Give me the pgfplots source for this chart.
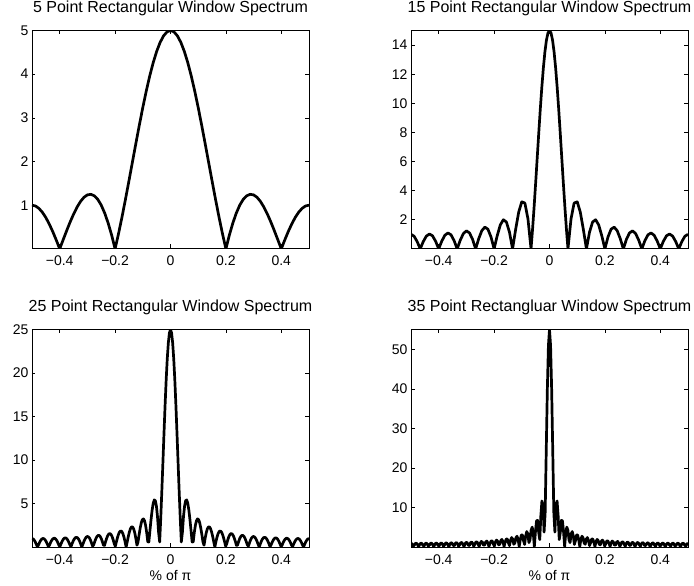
\documentclass[border=0pt]{standalone}
\usepackage{fontspec}
\setmainfont{Liberation Sans}
\usepackage{pgfplots}
\pgfplotsset{compat=1.18}
\usepackage{pgfplotstable}

% sampled at f = i/256 : columns x, |W| for N=25, |W| for N=55
\pgfplotstableread{
x a b
-0.5 1.000 1.000
-0.49609 0.953 0.781
-0.49219 0.818 0.219
-0.48828 0.606 0.439
-0.48438 0.337 0.905
-0.48047 0.0369 0.975
-0.47656 0.267 0.617
-0.47266 0.547 0.0123
-0.46875 0.777 0.637
-0.46484 0.934 0.984
-0.46094 1.005 0.900
-0.45703 0.982 0.420
-0.45313 0.867 0.246
-0.44922 0.671 0.806
-0.44531 0.411 1.015
-0.44141 0.112 0.778
-0.4375 0.199 0.199
-0.43359 0.493 0.471
-0.42969 0.742 0.937
-0.42578 0.924 0.994
-0.42188 1.020 0.614
-0.41797 1.021 0.0381
-0.41406 0.927 0.678
-0.41016 0.745 1.024
-0.40625 0.493 0.922
-0.40234 0.192 0.413
-0.39844 0.129 0.281
-0.39453 0.440 0.857
-0.39063 0.713 1.061
-0.38672 0.922 0.799
-0.38281 1.046 0.183
-0.37891 1.073 0.519
-0.375 1.000 1.000
-0.37109 0.833 1.045
-0.36719 0.585 0.630
-0.36328 0.280 0.0674
-0.35938 0.0543 0.743
-0.35547 0.388 1.099
-0.35156 0.689 0.974
-0.34766 0.929 0.418
-0.34375 1.085 0.329
-0.33984 1.141 0.941
-0.33594 1.091 1.146
-0.33203 0.938 0.848
-0.32813 0.695 0.171
-0.32422 0.382 0.591
-0.32031 0.0290 1.104
-0.31641 0.332 1.137
-0.3125 0.668 0.668
-0.30859 0.947 0.104
-0.30469 1.141 0.843
-0.30078 1.232 1.223
-0.29688 1.208 1.068
-0.29297 1.070 0.438
-0.28906 0.829 0.398
-0.28516 0.505 1.074
-0.28125 0.127 1.287
-0.27734 0.271 0.935
-0.27344 0.651 0.1617
-0.26953 0.978 0.700
-0.26563 1.220 1.271
-0.26172 1.352 1.291
-0.25781 1.360 0.739
-0.25391 1.240 0.154
-0.25 1.000 1.000
-0.24609 0.659 1.423
-0.24219 0.248 1.225
-0.23828 0.198 0.478
-0.23438 0.637 0.502
-0.23047 1.027 1.285
-0.22656 1.332 1.519
-0.22266 1.520 1.085
-0.21875 1.569 0.1545
-0.21484 1.471 0.873
-0.21094 1.231 1.543
-0.20703 0.866 1.548
-0.20313 0.408 0.863
-0.19922 0.1047 0.2297
-0.19531 0.625 1.258
-0.19141 1.105 1.761
-0.1875 1.497 1.497
-0.18359 1.761 0.554
-0.17969 1.869 0.673
-0.17578 1.803 1.647
-0.17188 1.562 1.924
-0.16797 1.163 1.352
-0.16406 0.636 0.1493
-0.16016 0.0255 1.173
-0.15625 0.616 2.030
-0.15234 1.228 2.016
-0.14844 1.753 1.096
-0.14453 2.137 0.362
-0.14063 2.336 1.733
-0.13672 2.322 2.397
-0.13281 2.085 2.018
-0.12891 1.634 0.707
-0.125 1.000 1.000
-0.12109 0.231 2.359
-0.11719 0.609 2.738
-0.11328 1.445 1.901
-0.10938 2.199 0.1457
-0.10547 2.795 1.801
-0.10156 3.164 3.072
-0.09766 3.255 3.043
-0.09375 3.038 1.624
-0.08984 2.507 0.657
-0.08594 1.686 2.839
-0.08203 0.623 3.921
-0.07813 0.604 3.306
-0.07422 1.898 1.103
-0.07031 3.147 1.850
-0.06641 4.230 4.286
-0.0625 5.027 5.027
-0.05859 5.430 3.517
-0.05469 5.347 0.1435
-0.05078 4.716 3.812
-0.04688 3.504 6.611
-0.04297 1.717 6.756
-0.03906 0.601 3.673
-0.03516 3.369 1.879
-0.03125 6.472 7.886
-0.02734 9.770 11.654
-0.02344 13.10 10.716
-0.01953 16.30 3.768
-0.01563 19.19 8.714
-0.01172 21.62 24.42
-0.00781 23.46 39.76
-0.00391 24.61 50.92
0 25 55
0.00391 24.61 50.92
0.00781 23.46 39.76
0.01172 21.62 24.42
0.01563 19.19 8.714
0.01953 16.30 3.768
0.02344 13.10 10.716
0.02734 9.770 11.654
0.03125 6.472 7.886
0.03516 3.369 1.879
0.03906 0.601 3.673
0.04297 1.717 6.756
0.04688 3.504 6.611
0.05078 4.716 3.812
0.05469 5.347 0.1435
0.05859 5.430 3.517
0.0625 5.027 5.027
0.06641 4.230 4.286
0.07031 3.147 1.850
0.07422 1.898 1.103
0.07813 0.604 3.306
0.08203 0.623 3.921
0.08594 1.686 2.839
0.08984 2.507 0.657
0.09375 3.038 1.624
0.09766 3.255 3.043
0.10156 3.164 3.072
0.10547 2.795 1.801
0.10938 2.199 0.1457
0.11328 1.445 1.901
0.11719 0.609 2.738
0.12109 0.231 2.359
0.125 1.000 1.000
0.12891 1.634 0.707
0.13281 2.085 2.018
0.13672 2.322 2.397
0.14063 2.336 1.733
0.14453 2.137 0.362
0.14844 1.753 1.096
0.15234 1.228 2.016
0.15625 0.616 2.030
0.16016 0.0255 1.173
0.16406 0.636 0.1493
0.16797 1.163 1.352
0.17188 1.562 1.924
0.17578 1.803 1.647
0.17969 1.869 0.673
0.18359 1.761 0.554
0.1875 1.497 1.497
0.19141 1.105 1.761
0.19531 0.625 1.258
0.19922 0.1047 0.2297
0.20313 0.408 0.863
0.20703 0.866 1.548
0.21094 1.231 1.543
0.21484 1.471 0.873
0.21875 1.569 0.1545
0.22266 1.520 1.085
0.22656 1.332 1.519
0.23047 1.027 1.285
0.23438 0.637 0.502
0.23828 0.198 0.478
0.24219 0.248 1.225
0.24609 0.659 1.423
0.25 1.000 1.000
0.25391 1.240 0.154
0.25781 1.360 0.739
0.26172 1.352 1.291
0.26563 1.220 1.271
0.26953 0.978 0.700
0.27344 0.651 0.1617
0.27734 0.271 0.935
0.28125 0.127 1.287
0.28516 0.505 1.074
0.28906 0.829 0.398
0.29297 1.070 0.438
0.29688 1.208 1.068
0.30078 1.232 1.223
0.30469 1.141 0.843
0.30859 0.947 0.104
0.3125 0.668 0.668
0.31641 0.332 1.137
0.32031 0.0290 1.104
0.32422 0.382 0.591
0.32813 0.695 0.171
0.33203 0.938 0.848
0.33594 1.091 1.146
0.33984 1.141 0.941
0.34375 1.085 0.329
0.34766 0.929 0.418
0.35156 0.689 0.974
0.35547 0.388 1.099
0.35938 0.0543 0.743
0.36328 0.280 0.0674
0.36719 0.585 0.630
0.37109 0.833 1.045
0.375 1.000 1.000
0.37891 1.073 0.519
0.38281 1.046 0.183
0.38672 0.922 0.799
0.39063 0.713 1.061
0.39453 0.440 0.857
0.39844 0.129 0.281
0.40234 0.192 0.413
0.40625 0.493 0.922
0.41016 0.745 1.024
0.41406 0.927 0.678
0.41797 1.021 0.0381
0.42188 1.020 0.614
0.42578 0.924 0.994
0.42969 0.742 0.937
0.43359 0.493 0.471
0.4375 0.199 0.199
0.44141 0.112 0.778
0.44531 0.411 1.015
0.44922 0.671 0.806
0.45313 0.867 0.246
0.45703 0.982 0.420
0.46094 1.005 0.900
0.46484 0.934 0.984
0.46875 0.777 0.637
0.47266 0.547 0.0123
0.47656 0.267 0.617
0.48047 0.0369 0.975
0.48438 0.337 0.905
0.48828 0.606 0.439
0.49219 0.818 0.219
0.49609 0.953 0.781
0.5 1.000 1.000
}\tabB

\pgfplotsset{
  mystyle/.style={
    scale only axis, width=277pt, height=217.5pt,
    anchor=south west,
    xmin=-0.5, xmax=0.5,
    xtick={-0.4,-0.2,0,0.2,0.4},
    xticklabels={−0.4,−0.2,0,0.2,0.4},
    tick align=inside,
    major tick length=3.5pt,
    axis line style={line width=0.8pt},
    every tick/.style={black, line width=0.6pt},
    tick label style={font=\fontsize{14}{16}\selectfont},
    xticklabel style={anchor=base, yshift=-18pt},
    /pgf/number format/assume math mode=true,
    title style={font=\fontsize{16}{18}\selectfont, at={(0.5,1)}, anchor=base, yshift=12pt},
    xlabel style={font=\fontsize{14}{16}\selectfont, at={(0.5,0)}, anchor=base, yshift=-34pt},
  },
  curve/.style={black, line width=2.7pt, line join=round, mark=none},
}

\begin{document}
\begin{tikzpicture}
\useasboundingbox (0pt,0pt) rectangle (694pt,586pt);

\begin{axis}[mystyle, at={(32pt,338pt)}, ymin=0.02, ymax=5, ytick={1,2,3,4,5},
  title={5 Point Rectangular Window Spectrum}]
\addplot[curve] coordinates {
(-0.5,1) (-0.4875,0.982) (-0.475,0.927) (-0.4625,0.837) (-0.45,0.716) (-0.4375,0.566) (-0.425,0.394) (-0.4125,0.203) (-0.4,0)
(-0.3875,0.208) (-0.375,0.414) (-0.3625,0.612) (-0.35,0.794) (-0.3375,0.953) (-0.325,1.084) (-0.3125,1.180) (-0.3,1.236)
(-0.2875,1.249) (-0.275,1.215) (-0.2625,1.132) (-0.25,1.000) (-0.2375,0.818) (-0.225,0.589) (-0.2125,0.315) (-0.2,0)
(-0.1875,0.351) (-0.175,0.732) (-0.1625,1.137) (-0.15,1.558) (-0.1375,1.986) (-0.125,2.414) (-0.1125,2.834) (-0.1,3.236)
(-0.0875,3.613) (-0.075,3.958) (-0.0625,4.262) (-0.05,4.520) (-0.0375,4.727) (-0.025,4.877) (-0.0125,4.969) (0,5)
(0.0125,4.969) (0.025,4.877) (0.0375,4.727) (0.05,4.520) (0.0625,4.262) (0.075,3.958) (0.0875,3.613) (0.1,3.236)
(0.1125,2.834) (0.125,2.414) (0.1375,1.986) (0.15,1.558) (0.1625,1.137) (0.175,0.732) (0.1875,0.351) (0.2,0)
(0.2125,0.315) (0.225,0.589) (0.2375,0.818) (0.25,1.000) (0.2625,1.132) (0.275,1.215) (0.2875,1.249) (0.3,1.236)
(0.3125,1.180) (0.325,1.084) (0.3375,0.953) (0.35,0.794) (0.3625,0.612) (0.375,0.414) (0.3875,0.208) (0.4,0)
(0.4125,0.203) (0.425,0.394) (0.4375,0.566) (0.45,0.716) (0.4625,0.837) (0.475,0.927) (0.4875,0.982) (0.5,1)
};
\end{axis}

\begin{axis}[mystyle, at={(411pt,338pt)}, ymin=0.0593, ymax=15, ytick={2,4,6,8,10,12,14},
  title={15 Point Rectangular Window Spectrum}]
\addplot[curve] coordinates {
(-0.5,1) (-0.48889,0.867) (-0.47778,0.501) (-0.46667,0) (-0.45556,0.505) (-0.44444,0.879) (-0.43333,1.022) (-0.42222,0.893)
(-0.41111,0.520) (-0.4,0) (-0.38889,0.532) (-0.37778,0.934) (-0.36667,1.095) (-0.35556,0.964) (-0.34444,0.566) (-0.33333,0)
(-0.32222,0.590) (-0.31111,1.045) (-0.3,1.236) (-0.28889,1.099) (-0.27778,0.653) (-0.26667,0) (-0.25556,0.695) (-0.24444,1.247)
(-0.23333,1.494) (-0.22222,1.347) (-0.21111,0.812) (-0.2,0) (-0.18889,0.894) (-0.17778,1.634) (-0.16667,2.000) (-0.15556,1.845)
(-0.14444,1.141) (-0.13333,0) (-0.12222,1.335) (-0.11111,2.532) (-0.1,3.236) (-0.08889,3.142) (-0.07778,2.067) (-0.06667,0)
(-0.06111,1.356) (-0.05556,2.879) (-0.05,4.520) (-0.04444,6.223) (-0.03889,7.926) (-0.03333,9.567) (-0.02778,11.08) (-0.02222,12.41)
(-0.01667,13.51) (-0.01111,14.33) (-0.00556,14.83) (0,15)
(0.00556,14.83) (0.01111,14.33) (0.01667,13.51) (0.02222,12.41) (0.02778,11.08) (0.03333,9.567) (0.03889,7.926) (0.04444,6.223)
(0.05,4.520) (0.05556,2.879) (0.06111,1.356) (0.06667,0) (0.07778,2.067) (0.08889,3.142) (0.1,3.236) (0.11111,2.532)
(0.12222,1.335) (0.13333,0) (0.14444,1.141) (0.15556,1.845) (0.16667,2.000) (0.17778,1.634) (0.18889,0.894) (0.2,0)
(0.21111,0.812) (0.22222,1.347) (0.23333,1.494) (0.24444,1.247) (0.25556,0.695) (0.26667,0) (0.27778,0.653) (0.28889,1.099)
(0.3,1.236) (0.31111,1.045) (0.32222,0.590) (0.33333,0) (0.34444,0.566) (0.35556,0.964) (0.36667,1.095) (0.37778,0.934)
(0.38889,0.532) (0.4,0) (0.41111,0.520) (0.42222,0.893) (0.43333,1.022) (0.44444,0.879) (0.45556,0.505) (0.46667,0)
(0.47778,0.501) (0.48889,0.867) (0.5,1)
};
\end{axis}

\begin{axis}[mystyle, at={(32pt,39pt)}, ymin=0.0255, ymax=25, ytick={5,10,15,20,25},
  title={25 Point Rectangular Window Spectrum}, xlabel={\% of π}]
\addplot[curve] table[x=x, y=a] {\tabB};
\end{axis}

\begin{axis}[mystyle, at={(411pt,39pt)}, ymin=0.0123, ymax=55, ytick={10,20,30,40,50},
  title={35 Point Rectangluar Window Spectrum}, xlabel={\% of π}]
\addplot[curve] table[x=x, y=b] {\tabB};
\end{axis}
\end{tikzpicture}
\end{document}
